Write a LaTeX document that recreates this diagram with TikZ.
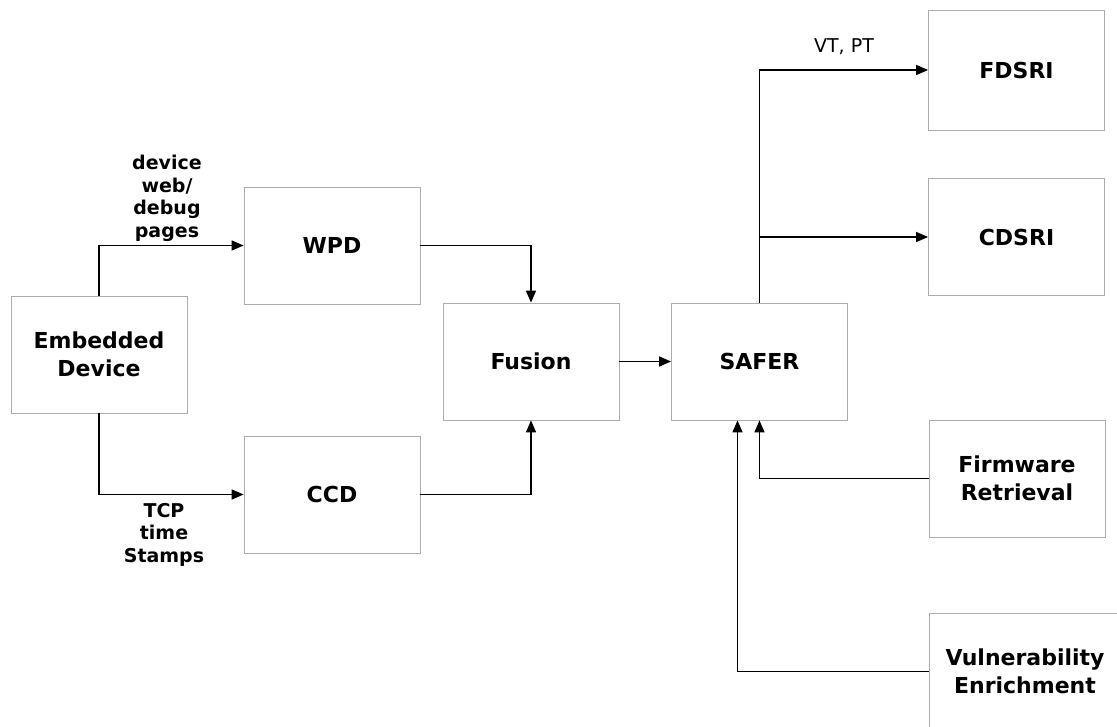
\documentclass[tikz,border=0pt]{standalone}
\usepackage{fontspec}
\setmainfont{DejaVu Sans}
\usetikzlibrary{arrows.meta}

\begin{document}
\begin{tikzpicture}[x=1pt, y=-1pt,
  box/.style={draw=gray!65, line width=0.8pt, align=center,
               minimum width=176pt, minimum height=117pt,
               font=\fontsize{22}{28}\selectfont\bfseries},
  lbl/.style={align=center, font=\fontsize{19}{22.5}\selectfont#1},
  lbl/.default=\bfseries,
  arr/.style={-{Triangle[length=12pt, width=10pt]}, line width=1.5pt}
]
  \useasboundingbox (0,0) rectangle (1117,726);
  \clip (0,10.5) rectangle (1117,726);

  \node[box] (emb)    at (99,354.5)  {Embedded\\Device};
  \node[box] (wpd)    at (332,245.5) {WPD};
  \node[box] (ccd)    at (332,494.5) {CCD};
  \node[box] (fusion) at (531,361.5) {Fusion};
  \node[box] (safer)  at (759.5,361.5) {SAFER};

  \node[box, minimum height=120pt] (fdsri) at (1016.5,70) {FDSRI};
  \node[box] (cdsri) at (1016.5,237) {CDSRI};
  \node[box] (firm)  at (1017,478.5) {Firmware\\Retrieval};
  \node[box, minimum width=192pt] (vuln) at (1025,671.5)
        {Vulnerability\\Enrichment};

  \node[lbl] (lweb) at (167,198.5) {device\\web/\\debug\\pages};
  \node[lbl] (ltcp) at (164,534.5) {TCP\\time\\Stamps};
  \node[lbl=\mdseries] (lvt) at (844,47) {VT, PT};

  \draw[arr] (emb.north) |- (wpd.west);
  \draw[arr] (emb.south) |- (ccd.west);
  \draw[arr] (wpd.east) -| (fusion.north);
  \draw[arr] (ccd.east) -| (fusion.south);
  \draw[arr] (fusion) -- (safer);
  \draw[arr] (safer.north) |- (fdsri.west);
  \draw[arr] (safer.north |- cdsri.west) -- (cdsri.west);
  \draw[arr] (firm.west) -| (safer.south);
  \draw[arr] (vuln.west) -| ([xshift=-22pt]safer.south);
\end{tikzpicture}
\end{document}
